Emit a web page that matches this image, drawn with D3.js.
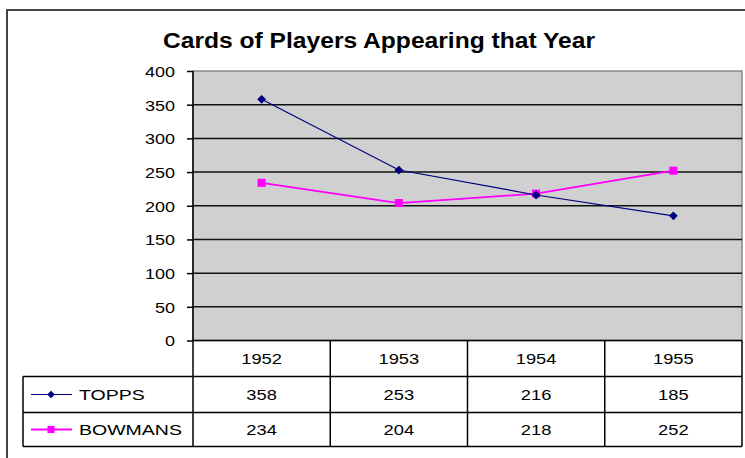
<!DOCTYPE html>
<html>
<head>
    <meta charset="utf-8">
    <script src="https://d3js.org/d3.v7.min.js"></script>
    <style>
        body { margin: 0; background: #fff; }
        text { font-family: Arial, "Liberation Sans", sans-serif; fill: #000; }
    </style>
</head>
<body>
<script>
    let years = ["1952", "1953", "1954", "1955"];
    let topps = [358, 253, 216, 185];
    let bowmans = [234, 204, 218, 252];
    let seriesNames = ["TOPPS", "BOWMANS"];
    let yTicks = [0, 50, 100, 150, 200, 250, 300, 350, 400];

    let width = 745;
    let height = 458;
    let svg = d3.select("body").append("svg")
        .attr("width", width)
        .attr("height", height);

    // plot area box
    let plot = {left: 193, right: 742, top: 71, bottom: 340.5};
    let rowH = [36, 36, 34];

    // stretch text horizontally, the screenshot glyphs are wider than plain Arial
    function stretch(sel, k) {
        sel.each(function() {
            let w = this.getComputedTextLength();
            d3.select(this).attr("textLength", w * k).attr("lengthAdjust", "spacingAndGlyphs");
        });
    }

    // outer chart border
    svg.append("path")
        .attr("d", "M7,460 L7,10 L750,10")
        .attr("fill", "none")
        .attr("stroke", "#444")
        .attr("stroke-width", 2);

    // title
    let title = svg.append("text")
        .attr("x", 379)
        .attr("y", 48)
        .attr("text-anchor", "middle")
        .style("font-size", "22px")
        .style("font-weight", "bold")
        .text("Cards of Players Appearing that Year");
    title.attr("textLength", 432).attr("lengthAdjust", "spacingAndGlyphs");

    let x = d3.scaleBand()
        .domain(years)
        .range([plot.left, plot.right]);

    let y = d3.scaleLinear()
        .domain([0, 400])
        .range([plot.bottom, plot.top]);

    svg.append("rect")
        .attr("x", plot.left)
        .attr("y", plot.top)
        .attr("width", plot.right - plot.left)
        .attr("height", plot.bottom - plot.top)
        .attr("fill", "#d0d0d0")
        .attr("stroke", "#888")
        .attr("stroke-width", 1.5);

    // gridlines
    svg.selectAll(".grid")
        .data(yTicks.filter(d => d > 0 && d < 400))
        .join("line")
        .attr("class", "grid")
        .attr("x1", plot.left)
        .attr("x2", plot.right)
        .attr("y1", d => y(d))
        .attr("y2", d => y(d))
        .attr("stroke", "#111")
        .attr("stroke-width", 1.5);

    // y axis
    let yAxis = svg.append("g")
        .attr("transform", `translate(${plot.left},0)`)
        .call(d3.axisLeft(y).tickValues(yTicks).tickSize(6).tickPadding(12));
    yAxis.select(".domain").remove();
    yAxis.selectAll(".tick line").attr("stroke", "#000").attr("stroke-width", 1.5);
    yAxis.selectAll(".tick text")
        .style("font-size", "15px")
        .attr("dy", "0.36em")
        .call(stretch, 1.2);

    // data table
    let tableTop = plot.bottom;
    let rowY = [tableTop, tableTop + rowH[0], tableTop + rowH[0] + rowH[1], tableTop + rowH[0] + rowH[1] + rowH[2]];
    let legendLeft = 23;
    let tbl = svg.append("g").attr("stroke", "#000").attr("stroke-width", 1.5);

    tbl.append("line")
        .attr("x1", plot.left).attr("x2", plot.right)
        .attr("y1", rowY[0]).attr("y2", rowY[0]);
    rowY.slice(1).forEach(ry => {
        tbl.append("line")
            .attr("x1", legendLeft).attr("x2", plot.right)
            .attr("y1", ry).attr("y2", ry);
    });
    // vertical column lines
    years.map(d => x(d)).concat([plot.right]).forEach(cx => {
        tbl.append("line")
            .attr("x1", cx).attr("x2", cx)
            .attr("y1", cx === plot.left ? plot.top : rowY[0]).attr("y2", rowY[3]);
    });
    tbl.append("line")
        .attr("x1", legendLeft).attr("x2", legendLeft)
        .attr("y1", rowY[1]).attr("y2", rowY[3]);

    // header years
    svg.selectAll(".year")
        .data(years)
        .join("text")
        .attr("class", "year")
        .attr("x", d => x(d) + x.bandwidth() / 2)
        .attr("y", (rowY[0] + rowY[1]) / 2)
        .attr("dy", "0.36em")
        .attr("text-anchor", "middle")
        .style("font-size", "15px")
        .text(d => d)
        .call(stretch, 1.22);

    // diamond = square turned 45 degrees
    let series = [
        {name: seriesNames[0], values: topps, color: "#000080", rot: 45, width: 1.2, size: 30},
        {name: seriesNames[1], values: bowmans, color: "#ff00ff", rot: 0, width: 1.8, size: 50}
    ];

    let line = d3.line()
        .x((d, i) => x(years[i]) + x.bandwidth() / 2)
        .y(d => y(d));

    series.forEach((s, si) => {
        let cy = (rowY[si + 1] + rowY[si + 2]) / 2;

        // table values
        svg.selectAll(".val" + si)
            .data(s.values)
            .join("text")
            .attr("class", "val" + si)
            .attr("x", (d, i) => x(years[i]) + x.bandwidth() / 2)
            .attr("y", cy)
            .attr("dy", "0.36em")
            .attr("text-anchor", "middle")
            .style("font-size", "15px")
            .text(d => d)
            .call(stretch, 1.22);

        // legend key
        svg.append("line")
            .attr("x1", 31).attr("x2", 72)
            .attr("y1", cy).attr("y2", cy)
            .attr("stroke", s.color)
            .attr("stroke-width", s.width);
        svg.append("path")
            .attr("d", d3.symbol(d3.symbolSquare, s.size)())
            .attr("transform", `translate(51,${cy}) rotate(${s.rot})`)
            .attr("fill", s.color);
        svg.append("text")
            .attr("x", 79)
            .attr("y", cy)
            .attr("dy", "0.36em")
            .style("font-size", "15px")
            .text(s.name)
            .call(stretch, 1.3);
    });

    // series lines and markers (bowmans drawn first, topps on top where they cross)
    series.slice().reverse().forEach(s => {
        svg.append("path")
            .datum(s.values)
            .attr("d", line)
            .attr("fill", "none")
            .attr("stroke", s.color)
            .attr("stroke-width", s.width);
        svg.selectAll(null)
            .data(s.values)
            .join("path")
            .attr("d", d3.symbol(d3.symbolSquare, s.size * 1.3)())
            .attr("transform", (d, i) => `translate(${x(years[i]) + x.bandwidth() / 2},${y(d)}) rotate(${s.rot})`)
            .attr("fill", s.color);
    });
</script>
</body>
</html>
